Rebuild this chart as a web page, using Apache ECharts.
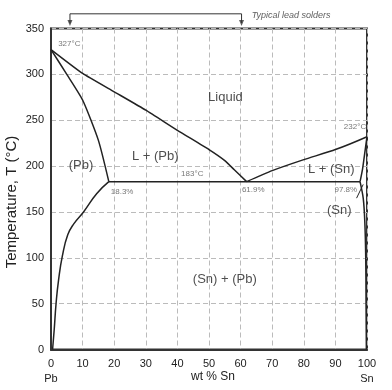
<!DOCTYPE html>
<html>
<head>
<meta charset="utf-8">
<script src="https://cdn.jsdelivr.net/npm/echarts@6/dist/echarts.min.js"></script>
<style>html,body{margin:0;padding:0;background:#fff}#c{width:392px;height:390px}</style>
</head>
<body>
<div id="c"></div>
<script>
// ---- data (wt % Sn, temperature °C) ----
const xTicks = [0, 10, 20, 30, 40, 50, 60, 70, 80, 90, 100];
const yTicks = [0, 50, 100, 150, 200, 250, 300, 350];
const liquidusPb = [[0, 327], [10, 301], [20, 281], [30, 261], [40, 239], [50, 218], [55, 206], [58, 196], [61.9, 183]];
const liquidusSn = [[61.9, 183], [70, 195], [80, 207], [90, 218], [100, 232]];
const solidusPb = [[0, 327], [5, 300], [10, 272], [15, 228], [18.3, 183]];
const solvusPb = [[18.3, 183], [14.5, 170], [10.3, 150], [7.2, 137], [5.3, 125], [3.6, 102], [2.4, 76], [1.6, 50], [1, 21], [0.5, 0]];
const solidusSn = [[100, 232], [99.2, 212], [98.6, 197], [97.8, 183]];
const solvusSn = [[97.8, 183], [98.8, 165], [99.3, 140], [99.6, 100], [99.7, 50], [99.8, 0]];
const eutecticLine = [[18.3, 183], [97.8, 183]];
const snLeader = [[96.7, 165], [98.8, 180]];
const solderRange = [6, 60.3];
const bracketTemps = [366, 356]; // bracket bar level, arrow tip level
const regionLabels = [
  { text: 'Liquid', x: 55.2, t: 275, size: 13 },
  { text: '(Pb)', x: 9.5, t: 201, size: 13 },
  { text: 'L + (Pb)', x: 33, t: 210, size: 13 },
  { text: 'L + (Sn)', x: 88.7, t: 196, size: 13 },
  { text: '(Sn)', x: 91.2, t: 152, size: 13 },
  { text: '(Sn) + (Pb)', x: 55, t: 76, size: 13 }
];
const pointLabels = [
  { text: '327°C', x: 5.8, t: 333 },
  { text: '232°C', x: 96.2, t: 243 },
  { text: '183°C', x: 44.7, t: 192 },
  { text: '18.3%', x: 22.5, t: 172 },
  { text: '61.9%', x: 64, t: 174 },
  { text: '97.8%', x: 93.3, t: 174 }
];
const noteText = 'Typical lead solders';
const noteAt = [76, 364];
const xTitle = 'wt % Sn';
const yTitle = 'Temperature, T (°C)';

const FONT = 'Liberation Sans, Arial, sans-serif';
const chart = echarts.init(document.getElementById('c'));
const lineStyle = { color: '#222', width: 1.5 };
function curve(data, smooth) {
  return { type: 'line', data: data, symbol: 'none', smooth: smooth || 0, lineStyle: lineStyle, silent: true, clip: false, z: 3 };
}
function textSeries(items, style) {
  return {
    type: 'scatter', symbolSize: 0, silent: true, clip: false, z: 5,
    data: items.map(d => ({ value: [d.x, d.t], label: { show: true, position: 'inside', formatter: d.text, fontSize: d.size || style.fontSize } })),
    label: Object.assign({ show: true, position: 'inside', fontFamily: FONT }, style)
  };
}
const option = {
  animation: false,
  grid: { left: 51, right: 25, top: 28.5, bottom: 40.5, outerBoundsMode: 'none', containLabel: false, show: true, borderColor: '#333', borderWidth: 2, backgroundColor: 'transparent' },
  graphic: [
    { type: 'text', left: 191, top: 371, silent: true, style: { text: xTitle, fontSize: 12, fill: '#222', fontFamily: FONT } },
    { type: 'text', x: 12, y: 202, rotation: Math.PI / 2, silent: true,
      style: { text: yTitle, fontSize: 15, fill: '#222', fontFamily: FONT, align: 'center', verticalAlign: 'middle' } }
  ],
  xAxis: {
    type: 'value', min: 0, max: 100, interval: 10,
    axisLine: { lineStyle: { color: '#333', width: 2 } },
    axisTick: { show: false },
    axisLabel: {
      margin: 7, color: '#222', fontSize: 11, lineHeight: 15, fontFamily: FONT,
      formatter: v => v === 0 ? '0\nPb' : (v === 100 ? '100\nSn' : String(v))
    },
    splitLine: { show: true, lineStyle: { color: '#bbb', type: [5, 3], width: 1 } }
  },
  yAxis: {
    type: 'value', min: 0, max: 350, interval: 50,
    axisLine: { lineStyle: { color: '#333', width: 2 } },
    axisTick: { show: false },
    axisLabel: { margin: 7, color: '#222', fontSize: 11, fontFamily: FONT },
    splitLine: { show: true, lineStyle: { color: '#bbb', type: [5, 3], width: 1 } }
  },
  series: [
    curve(liquidusPb, 0.15),
    curve(liquidusSn, 0.2),
    curve(solidusPb, 0.2),
    curve(solvusPb, 0.5),
    curve(solidusSn, 0.3),
    curve(solvusSn, 0.3),
    curve(eutecticLine),
    Object.assign(curve(snLeader), { lineStyle: { color: '#222', width: 1 } }),
    {
      type: 'line', symbol: 'none', silent: true, clip: false, z: 3,
      lineStyle: { color: '#333', width: 1 },
      data: [[solderRange[0], bracketTemps[1]], [solderRange[0], bracketTemps[0]], [solderRange[1], bracketTemps[0]], [solderRange[1], bracketTemps[1]]]
    },
    {
      type: 'scatter', symbol: 'triangle', symbolRotate: 180, symbolSize: [5, 6], silent: true, clip: false, z: 4,
      itemStyle: { color: '#333' },
      data: [[solderRange[0], bracketTemps[1]], [solderRange[1], bracketTemps[1]]]
    },
    textSeries(regionLabels, { fontSize: 13, color: '#222' }),
    textSeries(pointLabels, { fontSize: 8, color: '#555' }),
    textSeries([{ text: noteText, x: noteAt[0], t: noteAt[1] }], { fontSize: 9, color: '#333', fontStyle: 'italic' })
  ]
};
chart.setOption(option);
</script>
</body>
</html>
